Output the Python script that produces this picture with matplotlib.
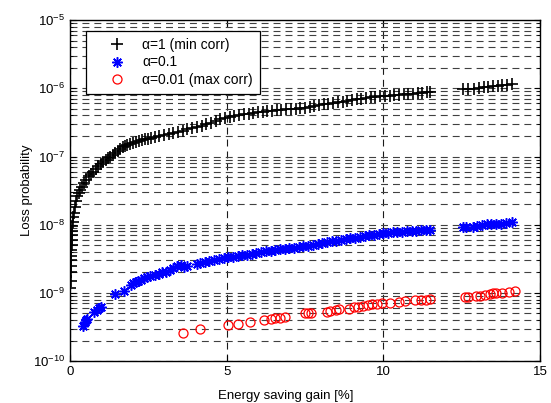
import matplotlib

matplotlib.use("Agg")
import matplotlib.pyplot as plt
import numpy as np
from matplotlib.ticker import NullFormatter, FixedLocator, LogLocator

plt.rcParams["font.family"] = ["Liberation Sans", "DejaVu Sans"]
plt.rcParams["mathtext.fontset"] = "custom"
plt.rcParams["mathtext.rm"] = "Liberation Sans"
plt.rcParams["lines.scale_dashes"] = False

# alpha = 1 (min corr); y in units of 1e-7
black_x = [0.01, 0.02, 0.02, 0.03, 0.03, 0.04, 0.04, 0.05, 0.05, 0.06, 0.07, 0.08,
           0.09, 0.10, 0.12, 0.15, 0.19, 0.23, 0.28, 0.32, 0.38, 0.45, 0.52, 0.60,
           0.67, 0.74, 0.82, 0.90, 0.98, 1.06, 1.14, 1.22, 1.29, 1.37, 1.45, 1.53,
           1.61, 1.69, 1.76, 1.83, 1.92, 2.00, 2.10, 2.20, 2.30, 2.40, 2.50, 2.57,
           2.70, 2.85, 3.00, 3.15, 3.30, 3.45, 3.60, 3.75, 3.90, 4.05, 4.20, 4.35,
           4.50, 4.65, 4.80, 4.95, 5.10, 5.25, 5.40, 5.55, 5.70, 5.85, 6.00, 6.15,
           6.30, 6.45, 6.60, 6.75, 6.90, 7.05, 7.20, 7.35, 7.50, 7.65, 7.80, 7.95,
           8.10, 8.25, 8.40, 8.55, 8.70, 8.85, 9.00, 9.15, 9.30, 9.45, 9.60, 9.75,
           9.90, 10.05, 10.20, 10.35, 10.50, 10.65, 10.80, 10.95, 11.10, 11.25,
           11.40, 11.50, 12.55, 12.70, 12.90, 13.05, 13.20, 13.35, 13.50, 13.65,
           13.80, 13.95, 14.10]
black_y = [0.012, 0.015, 0.02, 0.025, 0.03, 0.035, 0.042, 0.05, 0.06, 0.07, 0.08, 0.095,
           0.11, 0.13, 0.15, 0.18, 0.22, 0.26, 0.29, 0.32, 0.36, 0.41, 0.46, 0.51,
           0.55, 0.59, 0.65, 0.72, 0.78, 0.84, 0.90, 0.95, 1.0, 1.07, 1.14, 1.22,
           1.30, 1.37, 1.43, 1.48, 1.55, 1.60, 1.65, 1.70, 1.74, 1.78, 1.83, 1.86,
           1.92, 2.0, 2.08, 2.15, 2.22, 2.30, 2.40, 2.50, 2.60, 2.72, 2.85, 3.0,
           3.15, 3.3, 3.5, 3.7, 3.85, 3.95, 4.05, 4.15, 4.25, 4.35, 4.45, 4.55,
           4.62, 4.7, 4.78, 4.85, 4.92, 4.98, 5.05, 5.1, 5.2, 5.35, 5.5, 5.65,
           5.8, 5.95, 6.1, 6.25, 6.4, 6.6, 6.75, 6.9, 7.05, 7.2, 7.35, 7.5,
           7.65, 7.75, 7.85, 7.95, 8.05, 8.15, 8.3, 8.4, 8.5, 8.6,
           8.7, 8.8, 9.7, 9.8, 9.9, 10.2, 10.4, 10.5, 10.7, 10.9,
           11.1, 11.3, 11.6]

# alpha = 0.1; y in units of 1e-9
blue_x = [0.42, 0.47, 0.52, 0.55, 0.78, 0.85, 0.92, 0.98, 1.45, 1.72, 1.95, 2.02,
          2.10, 2.18, 2.26, 2.35, 2.45, 2.55, 2.70, 2.85, 2.95, 3.05, 3.20, 3.30,
          3.40, 3.55, 3.65, 3.75, 4.05, 4.15, 4.30, 4.45, 4.60, 4.75, 4.90, 5.05,
          5.20, 5.35, 5.50, 5.65, 5.80, 5.95, 6.10, 6.25, 6.40, 6.55, 6.70, 6.85,
          7.00, 7.15, 7.30, 7.45, 7.60, 7.75, 7.90, 8.05, 8.20, 8.35, 8.50, 8.65,
          8.80, 8.95, 9.10, 9.25, 9.40, 9.55, 9.70, 9.85, 10.00, 10.15, 10.30,
          10.45, 10.60, 10.75, 10.90, 11.05, 11.20, 11.35, 11.50, 12.55, 12.65,
          12.85, 13.00, 13.15, 13.30, 13.45, 13.60, 13.75, 13.90, 14.10]
blue_y = [0.33, 0.37, 0.40, 0.42, 0.53, 0.56, 0.60, 0.63, 0.95, 1.05, 1.30, 1.38,
          1.45, 1.50, 1.55, 1.65, 1.70, 1.75, 1.80, 1.90, 2.00, 2.05, 2.20, 2.35,
          2.45, 2.55, 2.40, 2.50, 2.65, 2.75, 2.85, 2.95, 3.00, 3.10, 3.25, 3.35,
          3.40, 3.50, 3.55, 3.65, 3.75, 3.85, 3.95, 4.05, 4.15, 4.25, 4.35, 4.45,
          4.55, 4.62, 4.70, 4.80, 4.95, 5.10, 5.25, 5.40, 5.55, 5.70, 5.85, 6.00,
          6.15, 6.30, 6.45, 6.65, 6.80, 6.95, 7.15, 7.35, 7.50, 7.60, 7.70,
          7.80, 7.90, 8.00, 8.10, 8.20, 8.30, 8.40, 8.50, 9.3, 9.4,
          9.3, 9.5, 9.9, 10.1, 10.2, 10.3, 10.4, 10.6, 11.0]

# alpha = 0.01 (max corr); y in units of 1e-10
red_x = [3.6, 4.15, 5.05, 5.35, 5.75, 6.2, 6.43, 6.53, 6.69, 6.85, 7.5, 7.6, 7.7,
         8.2, 8.3, 8.5, 8.6, 8.9, 9.05, 9.2, 9.35, 9.5, 9.65, 9.8, 9.97, 10.2,
         10.5, 10.7, 11.0, 11.2, 11.35, 11.5, 12.6, 12.7, 12.95, 13.1, 13.25,
         13.4, 13.5, 13.6, 13.8, 14.0, 14.2]
red_y = [2.6, 3.0, 3.4, 3.5, 3.7, 4.0, 4.1, 4.3, 4.3, 4.4, 5.0, 5.0, 5.0,
         5.3, 5.5, 5.6, 5.8, 5.9, 6.2, 6.3, 6.4, 6.6, 6.8, 6.9, 7.0, 7.2,
         7.4, 7.6, 7.8, 7.9, 8.0, 8.1, 8.6, 8.8, 8.9, 9.1, 9.4,
         9.6, 9.8, 9.9, 10.0, 10.3, 10.6]

labels = ["\u03b1=1 (min corr)", "\u03b1=0.1", "\u03b1=0.01 (max corr)"]
y_major = [1e-10, 1e-9, 1e-8, 1e-7, 1e-6, 1e-5]
x_major = [0, 5, 10, 15]

fig = plt.figure(figsize=(5.51, 4.03), dpi=100)
ax = fig.add_axes([0.127, 0.104, 0.853, 0.846])

ax.plot(black_x, np.array(black_y) * 1e-7, ls="none", marker="+", ms=8,
        mew=1.2, color="black", label=labels[0])
ax.plot(blue_x, np.array(blue_y) * 1e-9, ls="none", marker=(8, 2, 0), ms=7.5,
        mew=1.1, color="blue", label=labels[1])
ax.plot(red_x, np.array(red_y) * 1e-10, ls="none", marker="o", ms=6.5,
        mew=0.9, mfc="none", mec="red", label=labels[2])

ax.set_yscale("log")
ax.set_xlim(0, 15)
ax.set_ylim(1e-10, 1e-5)
ax.xaxis.set_major_locator(FixedLocator(x_major))
ax.yaxis.set_major_locator(FixedLocator(y_major))
ax.yaxis.set_minor_locator(LogLocator(base=10, subs=np.arange(2, 10), numticks=20))
ax.yaxis.set_minor_formatter(NullFormatter())

dash = (0, (5, 3.6))
ax.grid(True, which="both", axis="y", ls=dash, color="0.25", lw=0.8)
ax.grid(True, which="major", axis="x", ls=dash, color="0.1", lw=0.8)

ax.tick_params(which="both", direction="in", top=True, right=True, labelsize=9.5)
ax.tick_params(which="major", length=4, width=0.8)
ax.tick_params(which="minor", length=2.5, width=0.6)
for s in ax.spines.values():
    s.set_linewidth(1.0)

ax.set_xlabel("Energy saving gain [%]", fontsize=9.5)
ax.xaxis.set_label_coords(0.46, -0.085)
ax.set_ylabel("Loss probability", fontsize=9.5, labelpad=0)

leg = ax.legend(loc="upper left", bbox_to_anchor=(0.034, 0.968), fontsize=10,
                fancybox=False, edgecolor="black", framealpha=1, borderaxespad=0,
                handlelength=3.4, handletextpad=0.15, labelspacing=0.25,
                borderpad=0.5)
leg.get_frame().set_linewidth(0.9)

fig.savefig("out.png", dpi=100)
